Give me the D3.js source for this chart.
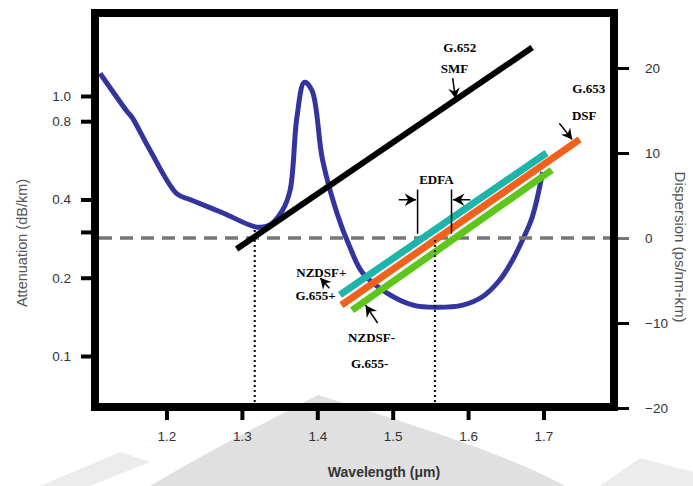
<!DOCTYPE html>
<html>
<head>
<meta charset="utf-8">
<script src="https://cdn.jsdelivr.net/npm/d3@7"></script>
<style>body{margin:0;background:#fff}</style>
</head>
<body>
<script>
// tick values
const wavelengthTicks = [1.2, 1.3, 1.4, 1.5, 1.6, 1.7];
const attenuationTicks = [1.0, 0.8, 0.4, 0.3, 0.2, 0.1];
const dispersionTicks = [20, 10, 0, -10, -20];

// attenuation curve (um, dB/km)
const attLambda = [1.112, 1.148, 1.154, 1.178, 1.214, 1.231, 1.275, 1.320, 1.337, 1.354, 1.364, 1.373, 1.383, 1.393, 1.407, 1.426, 1.443, 1.460, 1.492, 1.527, 1.558, 1.593, 1.619, 1.642, 1.659, 1.672, 1.685, 1.699];
const attValue  = [1.22, 0.87, 0.83, 0.62, 0.42, 0.40, 0.355, 0.313, 0.319, 0.364, 0.435, 0.83, 1.13, 1.05, 0.567, 0.355, 0.263, 0.209, 0.175, 0.157, 0.154, 0.157, 0.169, 0.196, 0.234, 0.279, 0.342, 0.51];

// dispersion lines (um, ps/nm-km)
const smfLambda = [1.293, 1.685],    smfDisp = [-1.3, 22.4];
const nzPlusLambda = [1.430, 1.704], nzPlusDisp = [-6.7, 10.0];
const dsfLambda = [1.432, 1.748],    dsfDisp = [-7.9, 11.6];
const nzMinusLambda = [1.446, 1.711], nzMinusDisp = [-8.5, 8.0];

// markers
const dottedLambda = [1.317, 1.556];
const dottedTop = [1.2, 0];
const edfaLambda = [1.533, 1.578];

const W = 693, H = 486;
const svg = d3.select("body").append("svg")
    .attr("width", W)
    .attr("height", H);

const x = d3.scaleLinear().domain([1.2, 1.7]).range([166.5, 543.5]);
const yL = d3.scaleLog().domain([0.1, 1]).range([356, 96]);
const yR = d3.scaleLinear().domain([-20, 20]).range([408, 68]);

const frame = { left: 95, right: 614, top: 13, bottom: 407 };

// faint watermark at bottom
svg.append("path")
    .attr("d", "M318,395 C270,420 210,450 150,486 L565,486 C500,450 380,415 318,395 Z")
    .attr("fill", "#e0e0e0");
svg.append("path")
    .attr("d", "M40,486 L120,452 L150,462 L90,486 Z M600,486 L640,458 L693,472 L693,486 Z")
    .attr("fill", "#ececec");

// attenuation curve
svg.append("path")
    .datum(attLambda.map((l, i) => [l, attValue[i]]))
    .attr("fill", "none")
    .attr("stroke", "#34349e")
    .attr("stroke-width", 5)
    .attr("stroke-linejoin", "round")
    .attr("d", d3.line().x(d => x(d[0])).y(d => yL(d[1])).curve(d3.curveCatmullRom));

// zero dispersion line
svg.append("line")
    .attr("x1", frame.left + 4).attr("x2", frame.right)
    .attr("y1", yR(0)).attr("y2", yR(0))
    .attr("stroke", "#777")
    .attr("stroke-width", 3.5)
    .attr("stroke-dasharray", "13,8");

// dispersion lines
const lineGen = d3.line().x(d => x(d[0])).y(d => yR(d[1]));
const fibers = [
  { l: smfLambda, d: smfDisp, c: "#000", w: 6 },
  { l: nzPlusLambda, d: nzPlusDisp, c: "#1db5aa", w: 7 },
  { l: dsfLambda, d: dsfDisp, c: "#f2611b", w: 7 },
  { l: nzMinusLambda, d: nzMinusDisp, c: "#5ec51b", w: 7 }
];
fibers.forEach(f => {
  svg.append("path")
      .datum(f.l.map((l, i) => [l, f.d[i]]))
      .attr("fill", "none")
      .attr("stroke", f.c)
      .attr("stroke-width", f.w)
      .attr("d", lineGen);
});

// dotted verticals
dottedLambda.forEach((l, i) => {
  svg.append("line")
      .attr("x1", x(l)).attr("x2", x(l))
      .attr("y1", frame.bottom).attr("y2", yR(dottedTop[i]))
      .attr("stroke", "#000")
      .attr("stroke-width", 2)
      .attr("stroke-dasharray", "2,3");
});

// EDFA window
edfaLambda.forEach(l => {
  svg.append("line")
      .attr("x1", x(l)).attr("x2", x(l))
      .attr("y1", yR(5.7)).attr("y2", yR(0.5))
      .attr("stroke", "#000")
      .attr("stroke-width", 1.5);
});

function arrow(l1, d1, l2, d2, size) {
  const x1 = x(l1), y1 = yR(d1), x2 = x(l2), y2 = yR(d2);
  const a = Math.atan2(y2 - y1, x2 - x1);
  svg.append("line")
      .attr("x1", x1).attr("y1", y1).attr("x2", x2).attr("y2", y2)
      .attr("stroke", "#000").attr("stroke-width", 1.5);
  const p = [
    [x2, y2],
    [x2 - size * Math.cos(a - 0.5), y2 - size * Math.sin(a - 0.5)],
    [x2 - size * 0.6 * Math.cos(a), y2 - size * 0.6 * Math.sin(a)],
    [x2 - size * Math.cos(a + 0.5), y2 - size * Math.sin(a + 0.5)]
  ];
  svg.append("path").attr("d", "M" + p.join("L") + "Z").attr("fill", "#000");
}

arrow(1.508, 4.5, 1.531, 4.5, 13);
arrow(1.603, 4.5, 1.580, 4.5, 13);
arrow(1.5795, 18.8, 1.5834, 16.4, 12);
arrow(1.721, 13.5, 1.738, 11.6, 12);
arrow(1.480, -10.0, 1.464, -7.9, 13);
arrow(1.416, -5.9, 1.404, -4.7, 12);

// annotations
const annText = ["G.652", "SMF", "G.653", "DSF", "EDFA", "NZDSF+", "G.655+", "NZDSF-", "G.655-"];
const annLambda = [1.589, 1.582, 1.760, 1.754, 1.558, 1.4385, 1.4245, 1.472, 1.4695];
const annDisp = [22.4, 19.9, 17.6, 14.4, 6.9, -4.1, -6.7, -11.7, -14.8];
const annAnchor = ["middle", "middle", "middle", "middle", "middle", "end", "end", "middle", "middle"];
annText.forEach((t, i) => {
  svg.append("text")
      .attr("x", x(annLambda[i]))
      .attr("y", yR(annDisp[i]))
      .attr("dy", "0.35em")
      .attr("text-anchor", annAnchor[i])
      .style("font-family", "Liberation Serif")
      .style("font-size", "13px")
      .style("font-weight", "bold")
      .text(t);
});

// frame
svg.append("rect")
    .attr("x", frame.left).attr("y", frame.top)
    .attr("width", frame.right - frame.left)
    .attr("height", frame.bottom - frame.top)
    .attr("fill", "none")
    .attr("stroke", "#000")
    .attr("stroke-width", 8);

const tickFont = g => g.selectAll("text")
    .style("font-family", "Liberation Sans")
    .style("font-size", "13.5px")
    .attr("fill", "#333");

// bottom axis
svg.append("g")
    .attr("transform", `translate(0,${frame.bottom + 4})`)
    .call(d3.axisBottom(x).tickValues(wavelengthTicks).tickFormat(d3.format(".1f")).tickSize(9).tickPadding(11))
    .call(g => g.select(".domain").remove())
    .call(g => g.selectAll("line").attr("stroke-width", 4))
    .call(tickFont);

// left axis
svg.append("g")
    .attr("transform", `translate(${frame.left - 4},0)`)
    .call(d3.axisLeft(yL).tickValues(attenuationTicks).tickFormat(d => d === 0.3 ? "" : d3.format(".1f")(d)).tickSize(10).tickPadding(10))
    .call(g => g.select(".domain").remove())
    .call(g => g.selectAll("line").attr("stroke-width", 4))
    .call(tickFont);

// right axis
svg.append("g")
    .attr("transform", `translate(${frame.right + 4},0)`)
    .call(d3.axisRight(yR).tickValues(dispersionTicks).tickSize(11).tickPadding(16))
    .call(g => g.select(".domain").remove())
    .call(g => g.selectAll("line").attr("stroke-width", 3).attr("stroke", d => d === 0 ? "#777" : "#000"))
    .call(tickFont);

// axis titles
svg.append("text")
    .attr("x", 384).attr("y", 477)
    .attr("text-anchor", "middle")
    .style("font-family", "Liberation Sans")
    .style("font-size", "14px")
    .style("font-weight", "bold")
    .attr("fill", "#333")
    .text("Wavelength (μm)");

svg.append("text")
    .attr("transform", "translate(22,243) rotate(-90)")
    .attr("text-anchor", "middle")
    .attr("dy", "0.35em")
    .style("font-family", "Liberation Sans")
    .style("font-size", "14.5px")
    .attr("fill", "#555")
    .text("Attenuation (dB/km)");

svg.append("text")
    .attr("transform", "translate(680,247) rotate(90)")
    .attr("text-anchor", "middle")
    .attr("dy", "0.35em")
    .style("font-family", "Liberation Sans")
    .style("font-size", "15px")
    .attr("fill", "#555")
    .text("Dispersion (ps/nm-km)");
</script>
</body>
</html>
